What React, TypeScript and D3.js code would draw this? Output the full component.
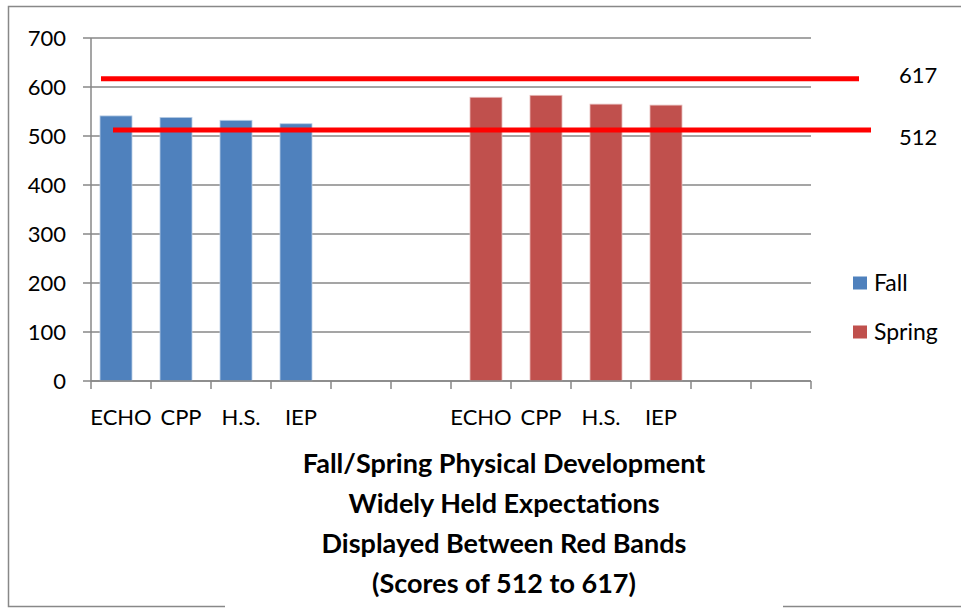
import React from "react";
import * as d3 from "d3";

const categories = ["ECHO", "CPP", "H.S.", "IEP", "", "", "ECHO", "CPP", "H.S.", "IEP", "", ""];
const fallValues: (number | null)[] = [541, 538, 532, 525, null, null, null, null, null, null, null, null];
const springValues: (number | null)[] = [null, null, null, null, null, null, 579, 583, 565, 563, null, null];
const yTicks = [0, 100, 200, 300, 400, 500, 600, 700];
const bandValues = [617, 512];
const titleLines = [
  "Fall/Spring Physical Development",
  "Widely Held Expectations",
  "Displayed Between Red Bands",
  "(Scores of 512 to 617)",
];
const seriesNames = ["Fall", "Spring"];
const seriesColors = ["#4F81BD", "#C0504D"];

const W = 961;
const H = 608;
const plot = { left: 91, right: 811, top: 38, bottom: 381 };
const FONT = "Lato, 'Open Sans', sans-serif";

export default function App() {
  const x = d3
    .scaleBand<number>()
    .domain(categories.map((_, i) => i))
    .range([plot.left, plot.right])
    .padding(0);
  const y = d3.scaleLinear().domain([0, 700]).range([plot.bottom, plot.top]);
  const bw = x.bandwidth();
  const barW = bw * 0.533;
  const shift = bw * 0.0833;
  const series = [fallValues, springValues];
  const gridColor = "#878787";

  const bandExtents = [
    [plot.left + 10, plot.right + 48],
    [plot.left + 22, plot.right + 60],
  ];

  return (
    <svg
      width={W}
      height={H}
      style={{ position: "absolute", left: 0, top: 0, background: "#fff" }}
      fontFamily={FONT}
    >
      <rect x={8.5} y={6.5} width={W + 10} height={600} fill="#fff" stroke="#888" strokeWidth={1.5} />

      {yTicks.map((t) => (
        <line
          key={"g" + t}
          x1={plot.left - 8}
          x2={plot.right}
          y1={y(t)}
          y2={y(t)}
          stroke={gridColor}
          strokeWidth={1.5}
        />
      ))}
      <line x1={plot.left} x2={plot.left} y1={plot.top} y2={plot.bottom} stroke={gridColor} strokeWidth={1.5} />
      {yTicks.map((t) => (
        <text key={"yl" + t} x={66} y={y(t)} dy="0.35em" textAnchor="end" fontSize={22} fill="#000">
          {t}
        </text>
      ))}

      {series.map((vals, si) =>
        vals.map((v, i) =>
          v == null ? null : (
            <rect
              key={"b" + si + "-" + i}
              x={(x(i) as number) + bw / 2 - barW / 2 + (si === 0 ? -shift : shift)}
              y={y(v)}
              width={barW}
              height={y(0) - y(v)}
              fill={seriesColors[si]}
              stroke={si === 0 ? "#B9CDE5" : "#E6B9B8"}
              strokeWidth={0.8}
            />
          )
        )
      )}

      <line x1={plot.left} x2={plot.right} y1={plot.bottom} y2={plot.bottom} stroke={gridColor} strokeWidth={1.5} />
      {[...categories.map((_, i) => x(i) as number), plot.right].map((px, i) => (
        <line key={"xt" + i} x1={px} x2={px} y1={plot.bottom} y2={plot.bottom + 8} stroke={gridColor} strokeWidth={1.5} />
      ))}
      {categories.map((c, i) => (
        <text key={"xl" + i} x={(x(i) as number) + bw / 2} y={425} textAnchor="middle" fontSize={22} fill="#000">
          {c}
        </text>
      ))}

      {bandValues.map((v, i) => (
        <g key={"band" + v}>
          <line x1={bandExtents[i][0]} x2={bandExtents[i][1]} y1={y(v)} y2={y(v)} stroke="#FF0000" strokeWidth={5} />
          <text x={899} y={y(v) + (i === 0 ? -3 : 7)} dy="0.35em" fontSize={22} fill="#000">
            {v}
          </text>
        </g>
      ))}

      {seriesNames.map((n, i) => (
        <g key={"leg" + n} transform={`translate(853, ${283 + i * 49})`}>
          <rect x={0} y={-6.5} width={14} height={13} fill={seriesColors[i]} />
          <text x={21} y={0} dy="0.35em" fontSize={23} fill="#000">
            {n}
          </text>
        </g>
      ))}

      <rect x={225} y={440} width={558} height={170} fill="#fff" />
      {titleLines.map((t, i) => (
        <text key={"t" + i} x={504} y={473 + i * 40} textAnchor="middle" fontSize={27} fontWeight="bold" fill="#000">
          {t}
        </text>
      ))}
    </svg>
  );
}
